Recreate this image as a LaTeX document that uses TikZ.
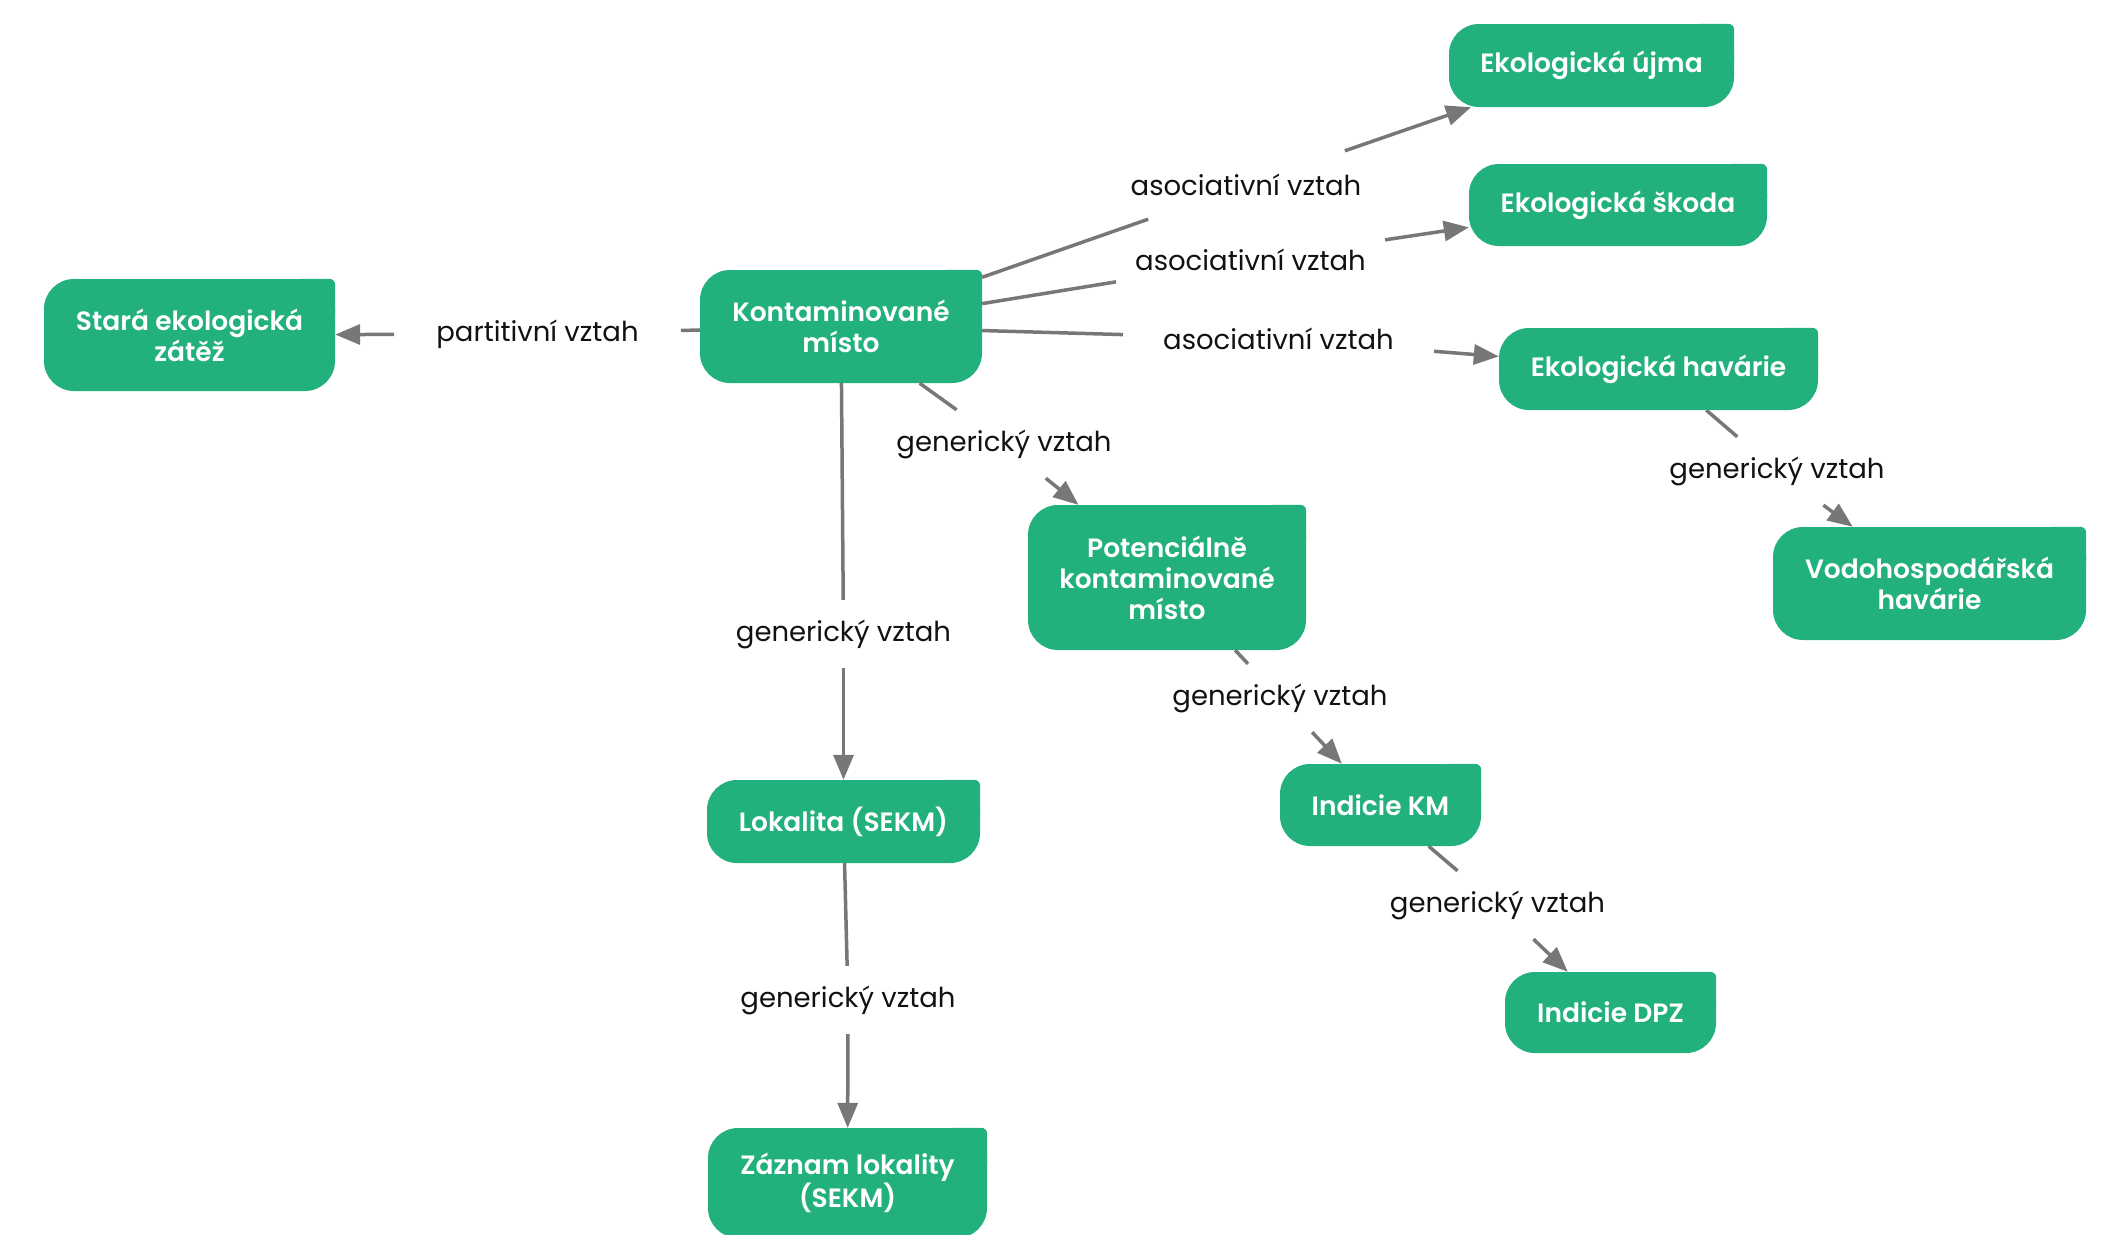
\documentclass[tikz,border=0pt]{standalone}
\usepackage{fontspec}
\setmainfont{Poppins}
\newfontfamily\boxfont{Poppins SemiBold}
\usetikzlibrary{arrows.meta,backgrounds}
\definecolor{kgreen}{HTML}{22B07D}
\definecolor{egray}{HTML}{777777}
\definecolor{ltext}{HTML}{111111}
\tikzset{
  concept/.style={fill=kgreen, rounded corners=30pt, text=white,
    font=\boxfont\fontsize{26.5}{31}\selectfont, align=center, inner sep=0pt},
  rel/.style={font=\fontsize{27.5}{30}\selectfont, text=ltext, inner xsep=30pt,
    minimum height=68pt},
  link/.style={draw=egray, line width=3.5pt},
  arrowlink/.style={link, -{Triangle[length=25pt,width=20pt]}},
}
\newcommand\sharpcorner[1]{\fill[kgreen, rounded corners=6pt]
  ([xshift=-40pt]#1.north east) rectangle ([yshift=-40pt]#1.north east);}
\begin{document}
\begin{tikzpicture}[x=1pt, y=-1pt]
\useasboundingbox (0,0) rectangle (2101,1234);
\clip (0,0) rectangle (2101,1234);
% concepts
\node[concept, minimum width=282pt, minimum height=113pt] (km) at (841,326.5) {Kontaminované\\místo};
\node[concept, minimum width=291pt, minimum height=112pt] (stara) at (189.5,335) {Stará ekologická\\zátěž};
\node[concept, minimum width=285pt, minimum height=83pt] (ujma) at (1591.5,65.5) {Ekologická újma};
\node[concept, minimum width=298pt, minimum height=82pt] (skoda) at (1618,205) {Ekologická škoda};
\node[concept, minimum width=319pt, minimum height=82pt] (havarie) at (1658.5,369) {Ekologická havárie};
\node[concept, minimum width=313pt, minimum height=113pt] (vodo) at (1929.5,583.5) {Vodohospodářská\\havárie};
\node[concept, minimum width=278pt, minimum height=145pt] (pkm) at (1167,577.5) {Potenciálně\\kontaminované\\místo};
\node[concept, minimum width=273pt, minimum height=83pt] (lok) at (843.5,821.5) {Lokalita (SEKM)};
\node[concept, minimum width=279pt, minimum height=110pt] (zaz) at (847.5,1183) {Záznam lokality\\(SEKM)};
\node[concept, minimum width=201pt, minimum height=82pt] (ikm) at (1380.5,805) {Indicie KM};
\node[concept, minimum width=211pt, minimum height=81pt] (dpz) at (1610.5,1012.5) {Indicie DPZ};
\begin{scope}[on background layer]
\foreach \n in {km,stara,ujma,skoda,havarie,vodo,pkm,lok,zaz,ikm,dpz}{\sharpcorner{\n}}
\end{scope}
% relation labels
\node[rel, inner xsep=42pt] (r1) at (537.5,334) {partitivní vztah};
\node[rel] (r2) at (1246,185) {asociativní vztah};
\node[rel, inner xsep=19pt] (r3) at (1250.5,260) {asociativní vztah};
\node[rel, inner xsep=40pt] (r4) at (1278.5,339) {asociativní vztah};
\node[rel] (r5) at (1004,444) {generický vztah};
\node[rel] (r6) at (843.5,634) {generický vztah};
\node[rel] (r7) at (1777,471) {generický vztah};
\node[rel] (r8) at (1280,698) {generický vztah};
\node[rel] (r9) at (1497.5,905) {generický vztah};
\node[rel] (r10) at (848,1000) {generický vztah};
% connectors
\draw[link] (km) -- (r1); \draw[arrowlink] (r1) -- (stara);
\draw[link] (km) -- (r2); \draw[arrowlink] (r2) -- (ujma);
\draw[link] (km) -- (r3); \draw[arrowlink] (r3) -- (skoda);
\draw[link] (km) -- (r4); \draw[arrowlink] (r4) -- (havarie);
\draw[link] (km) -- (r5); \draw[arrowlink] (r5) -- (pkm);
\draw[link] (km) -- (r6); \draw[arrowlink] (r6) -- (lok);
\draw[link] (havarie) -- (r7); \draw[arrowlink] (r7) -- (vodo);
\draw[link] (pkm) -- (r8); \draw[arrowlink] (r8) -- (ikm);
\draw[link] (ikm) -- (r9); \draw[arrowlink] (r9) -- (dpz);
\draw[link] (lok) -- (r10); \draw[arrowlink] (r10) -- (zaz);
\end{tikzpicture}
\end{document}
